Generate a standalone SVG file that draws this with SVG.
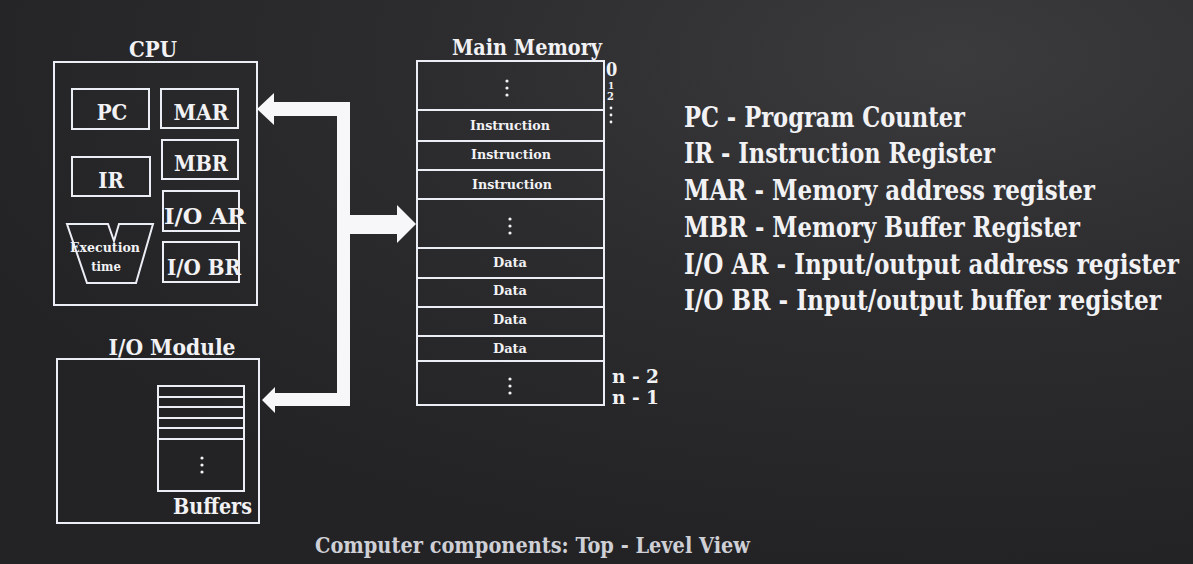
<svg xmlns="http://www.w3.org/2000/svg" width="1193" height="564" viewBox="0 0 1193 564">
<defs>
<radialGradient id="bg" cx="0.8" cy="0.1" r="0.9">
<stop offset="0" stop-color="#3b3b3e"/>
<stop offset="0.5" stop-color="#2c2c2f"/>
<stop offset="1" stop-color="#232326"/>
</radialGradient>
<style>
.box{fill:none;stroke:#eceef6;stroke-width:2}
.t{font-family:"DejaVu Serif","Liberation Serif",serif;font-weight:bold;fill:#f2f2f4;font-stretch:condensed}
.c{text-anchor:middle}
.lg{font-size:28px}
.h{font-size:22px}
.r{font-size:22px}
.m{font-size:12px}
.dot{fill:#f2f2f4}
</style>
</defs>
<rect width="1193" height="564" fill="url(#bg)"/>

<g id="cpu">
<text class="t h c" x="153" y="57">CPU</text>
<rect class="box" x="54" y="62" width="203" height="243"/>
<g id="pc"><rect class="box" x="72" y="89" width="77" height="40"/><text class="t r c" x="112" y="120">PC</text></g>
<g id="mar"><rect class="box" x="161" y="89" width="77" height="39"/><text class="t r c" x="201" y="120" textLength="55" lengthAdjust="spacingAndGlyphs">MAR</text></g>
<g id="ir"><rect class="box" x="72" y="157" width="78" height="39"/><text class="t r c" x="111" y="188">IR</text></g>
<g id="mbr"><rect class="box" x="162" y="140" width="76" height="39"/><text class="t r c" x="201" y="171" textLength="54" lengthAdjust="spacingAndGlyphs">MBR</text></g>
<g id="ioar"><rect class="box" x="163" y="191" width="76" height="40"/><text class="t r" x="164" y="224" textLength="82" lengthAdjust="spacingAndGlyphs">I/O AR</text></g>
<g id="iobr"><rect class="box" x="163" y="242" width="76" height="40"/><text class="t r" x="167" y="275" textLength="74" lengthAdjust="spacingAndGlyphs">I/O BR</text></g>
<g id="exec">
<polygon class="box" points="67,224 108,224 114,241 119,224 153,224 136,283 87,283"/>
<text class="t c" font-size="13" x="105" y="252" textLength="70" lengthAdjust="spacingAndGlyphs">Execution</text>
<text class="t c" font-size="13" x="106" y="271">time</text>
</g>
</g>

<g id="io-module">
<text class="t h c" x="172" y="355" textLength="127" lengthAdjust="spacingAndGlyphs">I/O Module</text>
<rect class="box" x="57" y="359" width="202" height="164"/>
<g id="buffers">
<rect class="box" x="158" y="386" width="86" height="105"/>
<path class="box" d="M158 397H244M158 407H244M158 418H244M158 428H244M158 439H244"/>
<circle class="dot" cx="202" cy="458" r="1.6"/><circle class="dot" cx="202" cy="465" r="1.6"/><circle class="dot" cx="202" cy="472" r="1.6"/>
<text class="t h" x="173" y="514" textLength="79" lengthAdjust="spacingAndGlyphs">Buffers</text>
</g>
</g>

<g id="main-memory">
<text class="t h c" x="527" y="55" textLength="150" lengthAdjust="spacingAndGlyphs">Main Memory</text>
<rect class="box" x="417" y="61" width="187" height="344"/>
<path class="box" d="M417 110H604M417 141H604M417 170H604M417 199H604M417 248H604M417 278H604M417 307H604M417 336H604M417 361H604"/>
<circle class="dot" cx="507" cy="81" r="1.6"/><circle class="dot" cx="507" cy="88" r="1.6"/><circle class="dot" cx="507" cy="95" r="1.6"/>
<circle class="dot" cx="510" cy="219" r="1.6"/><circle class="dot" cx="510" cy="226" r="1.6"/><circle class="dot" cx="510" cy="233" r="1.6"/>
<circle class="dot" cx="510" cy="379" r="1.6"/><circle class="dot" cx="510" cy="386" r="1.6"/><circle class="dot" cx="510" cy="393" r="1.6"/>
<text class="t m c" x="510" y="130" textLength="80" lengthAdjust="spacingAndGlyphs">Instruction</text>
<text class="t m c" x="511" y="159" textLength="80" lengthAdjust="spacingAndGlyphs">Instruction</text>
<text class="t m c" x="512" y="189" textLength="80" lengthAdjust="spacingAndGlyphs">Instruction</text>
<text class="t m c" x="510" y="267" textLength="34" lengthAdjust="spacingAndGlyphs">Data</text>
<text class="t m c" x="510" y="295" textLength="34" lengthAdjust="spacingAndGlyphs">Data</text>
<text class="t m c" x="510" y="324" textLength="34" lengthAdjust="spacingAndGlyphs">Data</text>
<text class="t m c" x="510" y="353" textLength="34" lengthAdjust="spacingAndGlyphs">Data</text>
<text class="t" x="606" y="76" font-size="18">0</text>
<text class="t" x="608" y="89" font-size="10">1</text>
<text class="t" x="607" y="100" font-size="11">2</text>
<circle class="dot" cx="611" cy="108" r="1.4"/><circle class="dot" cx="611" cy="115" r="1.4"/><circle class="dot" cx="611" cy="122" r="1.4"/>
<text class="t" font-size="19" x="612" y="383" textLength="47" lengthAdjust="spacingAndGlyphs">n - 2</text>
<text class="t" font-size="19" x="612" y="404" textLength="47" lengthAdjust="spacingAndGlyphs">n - 1</text>
</g>

<g id="connectors">
<path fill="#f7f7fa" d="M257 109L274 93L274 102L350 102L350 215L397 215L397 205L416 224L397 243L397 234L350 234L350 406L275 406L275 413L262 400L275 387L275 393L337 393L337 116L274 116L274 125Z"/>
</g>

<g id="legend">
<text class="t lg" x="684" y="127" textLength="281" lengthAdjust="spacingAndGlyphs">PC - Program Counter</text>
<text class="t lg" x="684" y="163" textLength="311" lengthAdjust="spacingAndGlyphs">IR - Instruction Register</text>
<text class="t lg" x="684" y="200" textLength="411" lengthAdjust="spacingAndGlyphs">MAR - Memory address register</text>
<text class="t lg" x="684" y="237" textLength="396" lengthAdjust="spacingAndGlyphs">MBR - Memory Buffer Register</text>
<text class="t lg" x="684" y="274" textLength="495" lengthAdjust="spacingAndGlyphs">I/O AR - Input/output address register</text>
<text class="t lg" x="684" y="310" textLength="477" lengthAdjust="spacingAndGlyphs">I/O BR - Input/output buffer register</text>
</g>

<text class="t" x="315" y="553" font-size="23" style="fill:#cfd0d6" textLength="435" lengthAdjust="spacingAndGlyphs">Computer components: Top - Level View</text>
</svg>
